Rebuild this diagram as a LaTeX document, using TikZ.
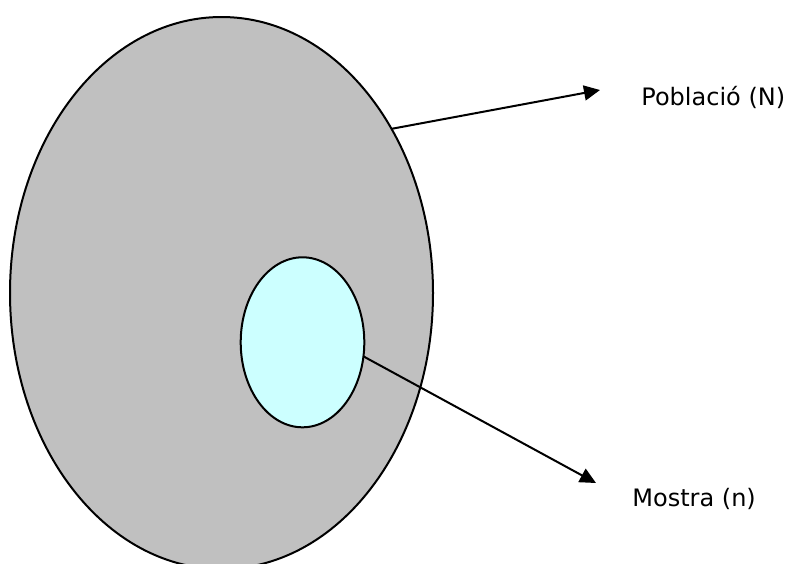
\documentclass[tikz,border=0pt]{standalone}
\usepackage{fontspec}
\setmainfont{DejaVu Sans}
\usepackage{xcolor}
\usetikzlibrary{arrows.meta,positioning,shapes.geometric}

\definecolor{popgray}{HTML}{C0C0C0}
\definecolor{sampcyan}{HTML}{CCFFFF}

\tikzset{
	set/.style={
		draw,
		ellipse,
		line width=1pt,
		inner sep=0pt,
		outer sep=0pt
	},
	label text/.style={
		anchor=west,
		inner sep=0pt,
		font=\fontsize{12pt}{14pt}\selectfont
	},
	arrow/.style={
		line width=1pt,
		-{Triangle[length=8pt,width=7.5pt]}
	}
}

\begin{document}
\begin{tikzpicture}[x=0.5pt,y=-0.5pt]
		
		\useasboundingbox (0,0) rectangle (787,563);
		\clip (0,0) rectangle (787,563);
		
		\node[
		set,
		fill=popgray,
		minimum width=211.5pt,
		minimum height=276pt
		]
		(P)
		at (221.5,293)
		{};
		
		\node[
		set,
		fill=sampcyan,
		minimum width=61.8pt,
		minimum height=85pt
		]
		(S)
		at (302.5,342.3)
		{};
		
		\coordinate (Ptip) at (600,90);
		\coordinate (Stip) at (596,483);
		
		\node[label text]
		(Plabel)
		at (641,97)
		{Població (N)};
		
		\node[label text]
		(Slabel)
		at (632,499)
		{Mostra (n)};
		
		\draw[arrow] (P.44)--(Ptip);
		\draw[arrow] (S.-13)--(Stip);
		
	\end{tikzpicture}
\end{document}
